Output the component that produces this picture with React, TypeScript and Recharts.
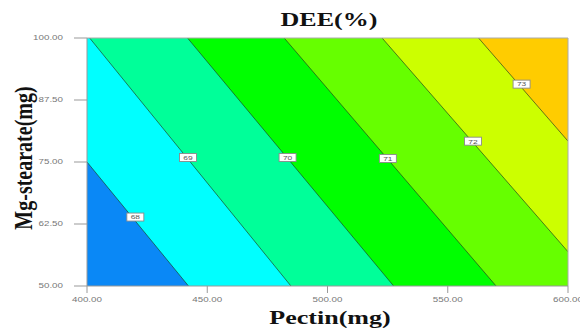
import React from 'react';
import {
  ComposedChart,
  Area,
  Line,
  Scatter,
  XAxis,
  YAxis,
  ReferenceLine,
} from 'recharts';

// Contour levels of DEE(%) and where each contour line meets the plot border
const contourLevels = [68, 69, 70, 71, 72, 73];
const contourStartPectin = [400, 401.1, 441.8, 482.0, 522.7, 562.8];
const contourStartMg = [75, 100, 100, 100, 100, 100];
const contourEndPectin = [442.2, 484.8, 527.5, 570.1, 600, 600];
const contourEndMg = [50, 50, 50, 50, 56.9, 79.2];

// Where each contour value tag sits
const labelPectin = [420.1, 442.0, 483.4, 525.1, 560.5, 580.7];
const labelMg = [63.9, 75.9, 75.9, 75.7, 79.2, 90.7];

// Fill of each band, from below 68 up to above 73
const bandColors = ['#0a88f6', '#00ffff', '#00ff99', '#00ff00', '#66ff00', '#ccff00', '#ffcc00'];

const pectinTicks = [400, 450, 500, 550, 600];
const mgTicks = [50, 62.5, 75, 87.5, 100];
const pectinRange = [400, 600];
const mgRange = [50, 100];

// Whole design space, painted with the lowest band colour
const baseArea = [
  { P: pectinRange[0], r: [mgRange[0], mgRange[1]] },
  { P: pectinRange[1], r: [mgRange[0], mgRange[1]] },
];

// For each level, the region where DEE is at or above it (above-right of its line)
const levelAreas = contourLevels.map((level, i) => {
  const pts: { P: number; r: number[] }[] = [
    { P: contourStartPectin[i], r: [contourStartMg[i], mgRange[1]] },
    { P: contourEndPectin[i], r: [contourEndMg[i], mgRange[1]] },
  ];
  if (contourEndPectin[i] < pectinRange[1]) {
    pts.push({ P: pectinRange[1], r: [mgRange[0], mgRange[1]] });
  }
  return { level, color: bandColors[i + 1], pts };
});

const contourLines = contourLevels.map((level, i) => ({
  level,
  pts: [
    { P: contourStartPectin[i], M: contourStartMg[i] },
    { P: contourEndPectin[i], M: contourEndMg[i] },
  ],
}));

const tagPoints = contourLevels.map((level, i) => ({
  P: labelPectin[i],
  M: labelMg[i],
  level,
}));

const tickFont = '"Liberation Sans", Arial, sans-serif';
const titleFont = '"Liberation Serif", "Times New Roman", serif';

const XTick = (props: any) => {
  const { x, y, payload } = props;
  return (
    <text
      x={0}
      y={0}
      transform={`translate(${x},${y + 5}) scale(1.4,1)`}
      textAnchor="middle"
      dominantBaseline="central"
      fontSize={7}
      fill="#777"
      fontFamily={tickFont}
    >
      {Number(payload.value).toFixed(2)}
    </text>
  );
};

const YTick = (props: any) => {
  const { x, y, payload } = props;
  return (
    <text
      x={0}
      y={0}
      transform={`translate(${x},${y}) scale(1.4,1)`}
      textAnchor="end"
      dominantBaseline="central"
      fontSize={7}
      fill="#777"
      fontFamily={tickFont}
    >
      {Number(payload.value).toFixed(2)}
    </text>
  );
};

const ContourTag = (props: any) => {
  const { cx, cy, payload } = props;
  if (cx == null || cy == null) return <g />;
  return (
    <g>
      <rect
        x={cx - 8.5}
        y={cy - 4}
        width={17}
        height={8}
        fill="#ffffff"
        stroke="#8a8a8a"
        strokeWidth={0.9}
      />
      <text
        x={0}
        y={0}
        transform={`translate(${cx},${cy + 0.3}) scale(1.4,1)`}
        textAnchor="middle"
        dominantBaseline="central"
        fontSize={6}
        fill="#555"
        fontFamily={tickFont}
      >
        {payload.level}
      </text>
    </g>
  );
};

export default function App() {
  return (
    <div style={{ position: 'relative', width: 580, height: 321 }}>
      <ComposedChart
        width={580}
        height={321}
        margin={{ top: 30, right: 20, bottom: 13, left: 0 }}
      >
        <XAxis
          type="number"
          dataKey="P"
          domain={pectinRange}
          ticks={pectinTicks}
          allowDataOverflow
          height={30}
          tickSize={7}
          tickMargin={2}
          stroke="#999"
          tick={(p: any) => <XTick {...p} />}
        />
        <YAxis
          type="number"
          domain={mgRange}
          ticks={mgTicks}
          allowDataOverflow
          width={79}
          tickSize={13}
          tickMargin={11}
          stroke="#999"
          tick={(p: any) => <YTick {...p} />}
        />
        <Area
          data={baseArea}
          dataKey="r"
          type="linear"
          fill={bandColors[0]}
          fillOpacity={1}
          stroke="none"
          isAnimationActive={false}
        />
        {levelAreas.map((a) => (
          <Area
            key={`band-${a.level}`}
            data={a.pts}
            dataKey="r"
            type="linear"
            fill={a.color}
            fillOpacity={1}
            stroke="none"
            isAnimationActive={false}
          />
        ))}
        {contourLines.map((l) => (
          <Line
            key={`line-${l.level}`}
            data={l.pts}
            dataKey="M"
            type="linear"
            stroke="#1f3b1f"
            strokeOpacity={0.65}
            strokeWidth={1}
            dot={false}
            activeDot={false}
            isAnimationActive={false}
          />
        ))}
        <ReferenceLine y={mgRange[1]} stroke="#aaa" strokeWidth={1} />
        <ReferenceLine x={pectinRange[1]} stroke="#aaa" strokeWidth={1} />
        <Scatter
          data={tagPoints}
          dataKey="M"
          shape={(p: any) => <ContourTag {...p} />}
          isAnimationActive={false}
        />
      </ComposedChart>
      <div
        style={{
          position: 'absolute',
          left: 321,
          top: 12,
          transform: 'translate(-50%, -50%) scaleX(1.37)',
          fontFamily: titleFont,
          fontWeight: 'bold',
          fontSize: 19,
          whiteSpace: 'nowrap',
          color: '#111',
        }}
      >
        DEE(%)
      </div>
      <div
        style={{
          position: 'absolute',
          left: 322,
          top: 310,
          transform: 'translate(-50%, -50%) scaleX(1.37)',
          fontFamily: titleFont,
          fontWeight: 'bold',
          fontSize: 19,
          whiteSpace: 'nowrap',
          color: '#111',
        }}
      >
        Pectin(mg)
      </div>
      <div
        style={{
          position: 'absolute',
          left: 16,
          top: 150,
          transform: 'translate(-50%, -50%) rotate(-90deg) scaleY(1.3)',
          fontFamily: titleFont,
          fontWeight: 'bold',
          fontSize: 20,
          whiteSpace: 'nowrap',
          color: '#111',
        }}
      >
        Mg-stearate(mg)
      </div>
    </div>
  );
}
